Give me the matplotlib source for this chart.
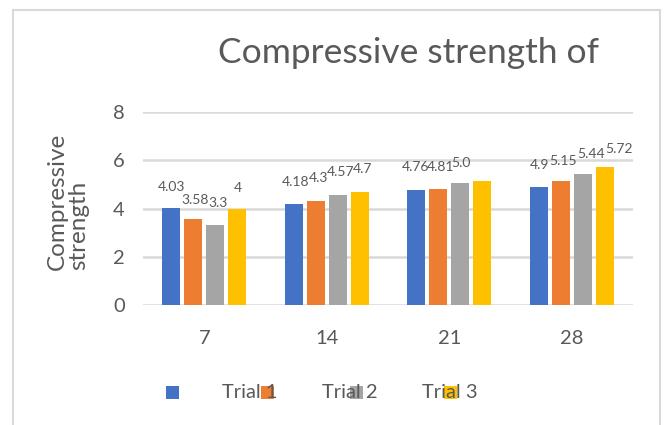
import matplotlib
matplotlib.use("Agg")
import matplotlib.pyplot as plt
from matplotlib.patches import Rectangle
import numpy as np

plt.rcParams['font.family'] = ['Lato', 'DejaVu Sans']

categories = ["7", "14", "21", "28"]
series_names = ["Trial 1", "Trial 2", "Trial 3"]
trial_a = [4.03, 4.18, 4.76, 4.90]
trial_b = [3.58, 4.30, 4.81, 5.15]
trial_c = [3.30, 4.57, 5.07, 5.44]
trial_d = [4.00, 4.70, 5.13, 5.72]
label_a = ["4.03", "4.18", "4.76", "4.9"]
label_b = ["3.58", "4.3", "4.81", "5.15"]
label_c = ["3.3", "4.57", "5.0", "5.44"]
label_d = ["4", "4.7", "", "5.72"]
yticks = [0, 2, 4, 6, 8]

colors = ["#4472C4", "#ED7D31", "#A5A5A5", "#FFC000"]
text_color = "#595959"
grid_color = "#D9D9D9"

W, H = 667, 425
fig = plt.figure(figsize=(W / 100, H / 100), dpi=100)
ax = fig.add_axes([143 / W, 1 - 305 / H, (633 - 143) / W, (305 - 112) / H])

x = np.arange(len(categories))
bw = 0.147
step = 0.18
series = [trial_a, trial_b, trial_c, trial_d]
labels = [label_a, label_b, label_c, label_d]
# label offsets in pixels (dx, dy) per series/category
offsets = [
    [(0, 21), (2, 22), (-1, 23), (1, 22)],
    [(2, 19), (3, 23), (2, 22), (2, 20)],
    [(3, 22), (3, 23), (1, 20), (8, 20)],
    [(1, 20), (3, 23), (0, 20), (14, 18)],
]
for i, (vals, labs) in enumerate(zip(series, labels)):
    xs = x + (i - 1.5) * step
    ax.bar(xs, vals, width=bw, color=colors[i], zorder=3)
    for j, (xx, v, lab) in enumerate(zip(xs, vals, labs)):
        if lab:
            dx, dy = offsets[i][j]
            ax.annotate(lab, (xx, v), xytext=(dx, dy), textcoords="offset pixels",
                        ha="center", va="center", fontsize=10, color=text_color, zorder=5)

ax.set_xlim(-0.5, len(categories) - 0.5)
ax.set_ylim(0, 8)
ax.set_yticks(yticks)
ax.set_xticks(x)
ax.set_xticklabels(categories)
ax.yaxis.grid(True, color=grid_color, linewidth=1.8, zorder=0)
ax.set_axisbelow(True)
for s in ax.spines.values():
    s.set_visible(False)
ax.tick_params(axis="both", length=0, labelsize=14.5, colors=text_color)
ax.tick_params(axis="y", pad=13)
ax.tick_params(axis="x", pad=18)

# title
fig.text(409 / W, 1 - 53 / H, "Compressive strength of", ha="center", va="center",
         fontsize=25.5, color=text_color)

# y label
fig.text(68 / W, 1 - 270 / H, "Compressive\nstrength", rotation=90, ha="center", va="bottom",
         multialignment="left", fontsize=17.5, color=text_color, linespacing=1.0)

# legend (as rendered in the reference)
sq = 13
for cx, c in zip([166, 261, 350, 444], colors):
    fig.patches.append(Rectangle((cx / W, 1 - 399 / H), sq / W, sq / H,
                                 transform=fig.transFigure, facecolor=c, edgecolor="none", zorder=1))
for tx, name in zip([222, 322, 422], series_names):
    fig.text(tx / W, 1 - 392 / H, name, ha="left", va="center", fontsize=14.5,
             color=text_color, zorder=3)

# chart frame
fig.patches.append(Rectangle((13 / W, -0.05), (660 - 13) / W, (1 - 10 / H) + 0.05,
                             transform=fig.transFigure, facecolor="none",
                             edgecolor=grid_color, linewidth=1.5, zorder=0))

fig.savefig("out.png", dpi=100)
